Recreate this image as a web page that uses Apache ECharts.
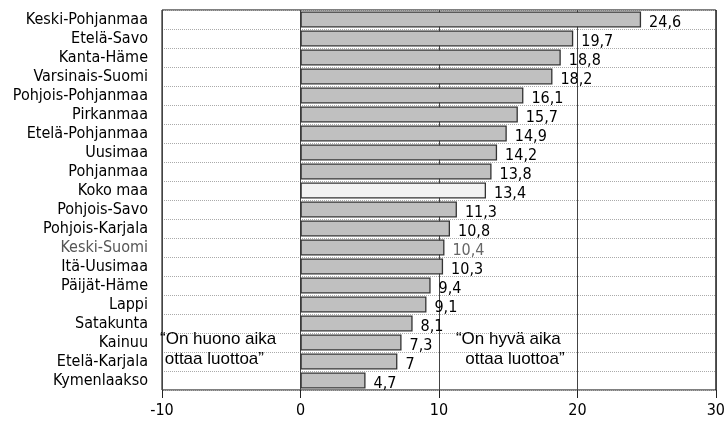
<!DOCTYPE html>
<html>
<head>
<meta charset="utf-8">
<script src="https://cdn.jsdelivr.net/npm/echarts@6/dist/echarts.min.js"></script>
<style>
  html, body { margin: 0; padding: 0; background: #fff; }
  #main { width: 728px; height: 423px; }
</style>
</head>
<body>
<div id="main"></div>
<script>
// regions, top to bottom
var regions = [
  'Keski-Pohjanmaa', 'Etelä-Savo', 'Kanta-Häme', 'Varsinais-Suomi',
  'Pohjois-Pohjanmaa', 'Pirkanmaa', 'Etelä-Pohjanmaa', 'Uusimaa',
  'Pohjanmaa', 'Koko maa', 'Pohjois-Savo', 'Pohjois-Karjala',
  'Keski-Suomi', 'Itä-Uusimaa', 'Päijät-Häme', 'Lappi',
  'Satakunta', 'Kainuu', 'Etelä-Karjala', 'Kymenlaakso'
];
var values = [
  24.6, 19.7, 18.8, 18.2,
  16.1, 15.7, 14.9, 14.2,
  13.8, 13.4, 11.3, 10.8,
  10.4, 10.3, 9.4, 9.1,
  8.1, 7.3, 7, 4.7
];
var xTicks = [-10, 0, 10, 20, 30];

var narrow = '"Liberation Sans Narrow", "DejaVu Sans Condensed", sans-serif';
var plain = '"Liberation Sans", Arial, sans-serif';

var chartDom = document.getElementById('main');
var myChart = echarts.init(chartDom);

var catData = regions.map(function (r) {
  if (r === 'Keski-Suomi') {
    return { value: r, textStyle: { color: '#555' } };
  }
  return r;
});

var barData = values.map(function (v, i) {
  var item = { value: v };
  if (regions[i] === 'Keski-Suomi') {
    item.label = { color: '#666' };
  }
  if (regions[i] === 'Koko maa') {
    item.itemStyle = { color: '#f2f2f2' };
  }
  return item;
});

var option = {
  animation: false,
  grid: {
    left: 162, right: 10, top: 10, bottom: 33,
    show: true, borderColor: '#000', borderWidth: 1, backgroundColor: 'transparent'
  },
  xAxis: {
    type: 'value',
    min: xTicks[0],
    max: xTicks[xTicks.length - 1],
    interval: 10,
    axisLine: { show: false },
    axisTick: { show: true, length: 8, lineStyle: { color: '#222' } },
    axisLabel: { margin: 13, color: '#000', fontFamily: narrow, fontSize: 16 },
    splitLine: { show: true, lineStyle: { color: '#444', width: 1 } }
  },
  yAxis: {
    type: 'category',
    data: catData,
    inverse: true,
    axisLine: { show: false },
    axisTick: { show: false },
    axisLabel: { margin: 14, color: '#000', fontFamily: narrow, fontSize: 16, interval: 0 },
    splitLine: {
      show: true,
      interval: 0,
      lineStyle: { color: '#aaa', type: [1, 1], width: 1 }
    }
  },
  series: [{
    type: 'bar',
    data: barData,
    barWidth: 16,
    itemStyle: { color: '#c0c0c0', borderColor: '#333', borderWidth: 1.3 },
    label: {
      show: true,
      position: 'right',
      distance: 8,
      offset: [0, 3],
      color: '#000',
      fontFamily: narrow,
      fontSize: 16,
      formatter: function (p) { return String(p.value).replace('.', ','); }
    },
    z: 3
  }]
};

myChart.setOption(option);

// annotations anchored to the axes
var pBad = myChart.convertToPixel({ gridIndex: 0 }, [-10, 'Kainuu']);
var pGood = myChart.convertToPixel({ gridIndex: 0 }, [10, 'Kainuu']);
myChart.setOption({
  graphic: [
    {
      type: 'text', left: pBad[0] - 2, top: pBad[1] - 13, z: 10,
      style: { text: '\u201cOn huono aika\n ottaa luottoa\u201d', font: '17px ' + plain, fill: '#000', lineHeight: 20 }
    },
    {
      type: 'text', left: pGood[0] + 17, top: pGood[1] - 13, z: 10,
      style: { text: '\u201cOn hyvä aika\n  ottaa luottoa\u201d', font: '17px ' + plain, fill: '#000', lineHeight: 20 }
    }
  ]
});
</script>
</body>
</html>
